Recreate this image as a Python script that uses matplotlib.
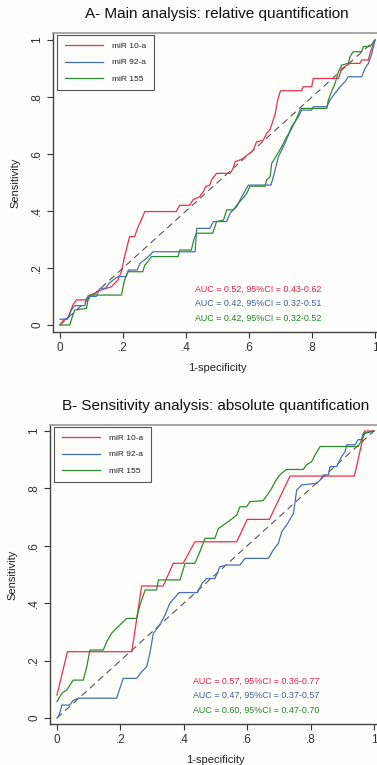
import matplotlib
matplotlib.use("Agg")
import matplotlib.pyplot as plt
from matplotlib.lines import Line2D

plt.rcParams['font.family'] = ['Liberation Sans', 'DejaVu Sans']

# ---------------- data ----------------
labels = ["miR 10-a", "miR 92-a", "miR 155"]
titles = ["A- Main analysis: relative quantification",
          "B- Sensitivity analysis: absolute quantification"]
tick_vals = [0, 0.2, 0.4, 0.6, 0.8, 1.0]
tick_labels = ["0", ".2", ".4", ".6", ".8", "1"]

auc_a = ["AUC = 0.52, 95%CI = 0.43-0.62",
         "AUC = 0.42, 95%CI = 0.32-0.51",
         "AUC = 0.42, 95%CI = 0.32-0.52"]
auc_b = ["AUC = 0.57, 95%CI = 0.36-0.77",
         "AUC = 0.47, 95%CI = 0.37-0.57",
         "AUC = 0.60, 95%CI = 0.47-0.70"]

# Panel A
a_red_x = [0, 0.012, 0.022, 0.031, 0.041, 0.052, 0.084, 0.089, 0.105, 0.131, 0.163, 0.184, 0.195, 0.205,
           0.221, 0.237, 0.248, 0.258, 0.269, 0.369, 0.38, 0.412, 0.422, 0.443, 0.455, 0.462, 0.476, 0.481,
           0.497, 0.54, 0.55, 0.556, 0.571, 0.582, 0.593, 0.603, 0.614, 0.624, 0.645, 0.656, 0.667, 0.677,
           0.683, 0.69, 0.70, 0.767, 0.772, 0.799, 0.804, 0.884, 0.894, 0.921, 0.952, 0.958, 0.979, 0.984,
           0.995, 1.0]
a_red_y = [0, 0.018, 0.02, 0.041, 0.07, 0.088, 0.088, 0.102, 0.109, 0.123, 0.134, 0.158, 0.187, 0.24,
           0.31, 0.31, 0.345, 0.368, 0.398, 0.398, 0.42, 0.42, 0.439, 0.45, 0.468, 0.485, 0.491, 0.509,
           0.532, 0.532, 0.55, 0.573, 0.579, 0.585, 0.596, 0.602, 0.614, 0.643, 0.648, 0.672, 0.686, 0.72,
           0.74, 0.785, 0.822, 0.822, 0.836, 0.836, 0.865, 0.865, 0.9, 0.918, 0.918, 0.93, 0.93, 0.953,
           0.988, 1.0]

a_blue_x = [0, 0.025, 0.036, 0.047, 0.079, 0.084, 0.095, 0.115, 0.127, 0.145, 0.155, 0.169, 0.185, 0.21,
            0.217, 0.245, 0.254, 0.275, 0.296, 0.429, 0.434, 0.476, 0.487, 0.529, 0.54, 0.55, 0.561, 0.574,
            0.598, 0.67, 0.683, 0.693, 0.704, 0.714, 0.725, 0.735, 0.746, 0.757, 0.767, 0.799, 0.804, 0.847,
            0.857, 0.873, 0.889, 0.905, 0.915, 0.958, 0.968, 0.979, 0.99, 1.0]
a_blue_y = [0.02, 0.022, 0.053, 0.068, 0.068, 0.093, 0.1, 0.1, 0.129, 0.129, 0.145, 0.158, 0.17, 0.17,
            0.193, 0.193, 0.216, 0.234, 0.257, 0.257, 0.339, 0.339, 0.363, 0.363, 0.392, 0.404, 0.415, 0.444,
            0.491, 0.491, 0.544, 0.59, 0.614, 0.637, 0.667, 0.696, 0.713, 0.731, 0.754, 0.754, 0.766, 0.766,
            0.789, 0.813, 0.836, 0.854, 0.871, 0.871, 0.9, 0.918, 0.953, 1.0]

a_green_x = [0, 0.031, 0.038, 0.047, 0.084, 0.089, 0.094, 0.195, 0.205, 0.216, 0.263, 0.269, 0.279, 0.29,
             0.375, 0.38, 0.417, 0.425, 0.433, 0.485, 0.497, 0.519, 0.529, 0.55, 0.566, 0.58, 0.593, 0.603,
             0.651, 0.656, 0.667, 0.672, 0.688, 0.704, 0.72, 0.73, 0.741, 0.751, 0.762, 0.767, 0.847, 0.852,
             0.862, 0.873, 0.878, 0.884, 0.894, 0.915, 0.921, 0.931, 0.958, 0.963, 0.984, 1.0]
a_green_y = [0, 0, 0.025, 0.053, 0.058, 0.088, 0.105, 0.105, 0.158, 0.187, 0.187, 0.21, 0.222, 0.24,
             0.24, 0.263, 0.263, 0.3, 0.322, 0.322, 0.363, 0.368, 0.404, 0.404, 0.427, 0.444, 0.462, 0.487,
             0.487, 0.509, 0.52, 0.567, 0.596, 0.626, 0.661, 0.678, 0.702, 0.725, 0.754, 0.76, 0.76, 0.789,
             0.819, 0.848, 0.865, 0.889, 0.912, 0.918, 0.942, 0.959, 0.959, 0.977, 0.977, 1.0]

# Panel B
b_red_x = [0, 0.033, 0.236, 0.267, 0.335, 0.367, 0.398, 0.435, 0.567, 0.60, 0.67, 0.735, 0.938, 0.97, 1.0]
b_red_y = [0.08, 0.231, 0.231, 0.46, 0.46, 0.539, 0.539, 0.614, 0.614, 0.692, 0.692, 0.843, 0.843, 1.0, 1.0]

b_blue_x = [0, 0.004, 0.01, 0.015, 0.04, 0.05, 0.067, 0.188, 0.209, 0.251, 0.267, 0.283, 0.293, 0.304,
            0.32, 0.33, 0.341, 0.356, 0.372, 0.385, 0.443, 0.458, 0.472, 0.498, 0.514, 0.535, 0.577, 0.593,
            0.667, 0.682, 0.698, 0.709, 0.724, 0.746, 0.756, 0.772, 0.819, 0.83, 0.84, 0.856, 0.861, 0.882,
            0.898, 0.909, 0.914, 0.94, 0.95, 0.96, 0.972, 1.0]
b_blue_y = [0, 0.005, 0.02, 0.045, 0.045, 0.06, 0.069, 0.069, 0.138, 0.138, 0.161, 0.179, 0.225, 0.295,
            0.318, 0.336, 0.359, 0.4, 0.42, 0.437, 0.437, 0.47, 0.486, 0.486, 0.527, 0.533, 0.533, 0.556,
            0.556, 0.585, 0.608, 0.649, 0.672, 0.713, 0.794, 0.812, 0.818, 0.829, 0.847, 0.847, 0.876, 0.876,
            0.911, 0.929, 0.952, 0.952, 0.97, 0.97, 0.992, 1.0]

b_green_x = [0, 0.015, 0.031, 0.051, 0.083, 0.094, 0.104, 0.146, 0.157, 0.172, 0.188, 0.204, 0.22, 0.251,
             0.262, 0.278, 0.314, 0.32, 0.388, 0.404, 0.435, 0.451, 0.467, 0.498, 0.509, 0.54, 0.567, 0.577,
             0.598, 0.609, 0.65, 0.667, 0.677, 0.688, 0.703, 0.724, 0.777, 0.787, 0.803, 0.814, 0.83, 0.95,
             0.961, 0.966, 1.0]
b_green_y = [0.057, 0.086, 0.098, 0.132, 0.132, 0.179, 0.237, 0.237, 0.266, 0.295, 0.313, 0.33, 0.347, 0.347,
             0.394, 0.446, 0.446, 0.481, 0.481, 0.539, 0.539, 0.58, 0.626, 0.626, 0.66, 0.684, 0.707, 0.736,
             0.736, 0.754, 0.757, 0.783, 0.8, 0.824, 0.847, 0.866, 0.866, 0.882, 0.893, 0.916, 0.946, 0.946,
             0.969, 0.992, 1.0]

# ---------------- style ----------------
line_colors = ["#e5324f", "#4a6fae", "#2f8a35"]
text_colors = ["#e8204a", "#3d5f9e", "#1f8426"]
bg = "#fdfdfa"

W, H = 377, 765
fig = plt.figure(figsize=(W / 100, H / 100), dpi=100, facecolor=bg)


def px_axes(left, right, top, bottom):
    return fig.add_axes([left / W, 1 - bottom / H, (right - left) / W, (bottom - top) / H])


def draw_panel(ax, series, title, auc, ylims, xlims, legend_anchor, auc_anchor, title_x, title_y):
    ax.set_facecolor(bg)
    ax.plot([0, 1], [0, 1], color="#555555", lw=0.8, dashes=(6, 4), zorder=2)
    for (xs, ys), c, lab in zip(series, line_colors, labels):
        ax.plot(xs, ys, color=c, lw=0.9, label=lab, zorder=3)
    ax.set_xlim(*xlims)
    ax.set_ylim(*ylims)
    ax.set_xticks(tick_vals)
    ax.set_xticklabels(tick_labels)
    ax.set_yticks(tick_vals)
    ax.set_yticklabels(tick_labels, rotation=90, va="center")
    ax.tick_params(axis="both", direction="out", length=4, width=0.8, colors="#333333",
                   labelsize=8.5, pad=3)
    for side in ("left", "bottom"):
        ax.spines[side].set_color("#444444")
        ax.spines[side].set_linewidth(1.0)
    ax.spines["top"].set_color("#999999")
    ax.spines["top"].set_linewidth(1.2)
    ax.spines["right"].set_color("#999999")
    ax.set_xlabel("1-specificity", fontsize=8, color="#222222", labelpad=7)
    ax.set_ylabel("Sensitivity", fontsize=8, color="#222222", labelpad=8)
    fig.text(title_x / W, 1 - title_y / H, title, ha="center", va="center", fontsize=11, color="#111111")
    handles = [Line2D([0], [0], color=c, lw=0.9) for c in line_colors]
    leg = ax.legend(handles, labels, loc="upper left", bbox_to_anchor=legend_anchor,
                    bbox_transform=fig.transFigure, borderaxespad=0, fontsize=6,
                    handlelength=4.6, handletextpad=1.1, labelspacing=1.0, borderpad=0.9,
                    fancybox=False, framealpha=1, facecolor=bg, edgecolor="#555555")
    leg.get_frame().set_linewidth(0.8)
    for t in leg.get_texts():
        t.set_color("#222222")
    for i, (s, c) in enumerate(zip(auc, text_colors)):
        fig.text(auc_anchor[0] / W, 1 - (auc_anchor[1] + 14.5 * i) / H, s, ha="left", va="center",
                 fontsize=6.4, color=c)


axA = px_axes(53, 382, 33, 332)
draw_panel(axA,
           [(a_red_x, a_red_y), (a_blue_x, a_blue_y), (a_green_x, a_green_y)],
           titles[0], auc_a,
           ylims=(-0.0246, 1.0246), xlims=(-0.0222, 1.0222),
           legend_anchor=(57 / W, 1 - 35 / H), auc_anchor=(195, 289), title_x=217, title_y=14)

axB = px_axes(50, 381, 425, 724)
draw_panel(axB,
           [(b_red_x, b_red_y), (b_blue_x, b_blue_y), (b_green_x, b_green_y)],
           titles[1], auc_b,
           ylims=(-0.0209, 1.0209), xlims=(-0.022, 1.022),
           legend_anchor=(54 / W, 1 - 427 / H), auc_anchor=(193, 681), title_x=216, title_y=406)

fig.savefig("out.png", dpi=100, facecolor=bg)
